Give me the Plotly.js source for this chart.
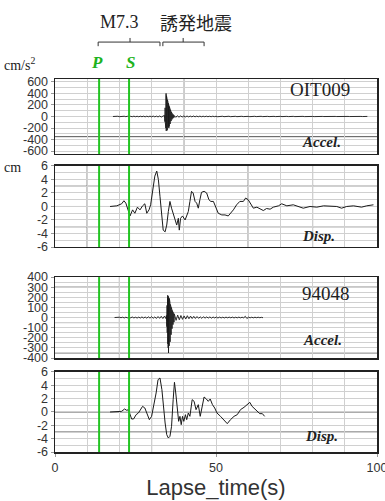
<!DOCTYPE html>
<html><head><meta charset="utf-8">
<script src="https://cdn.plot.ly/plotly-3.0.1.min.js"></script>
<style>html,body{margin:0;padding:0;background:#fff;}#chart{width:385px;height:501px;}</style>
</head><body><div id="chart"></div>
<script>
// ---------- data ----------
const P_TIME = 13.7;
const S_TIME = 23.0;

// OIT009 acceleration (cm/s^2), sampled segments
const acc1PreT0 = 18, acc1PreDt = 0.5;
const acc1Pre = [0, 3, -2, 4, -3, 2, -4, 4, -3, 4, -4, 3, -4, 5, -4, 4, -5, 5, -4, 5, -6, 5, -5, 6, -6, 7, -6, 6, -8, 9, -10, 12];
const acc1BurstT0 = 34.0, acc1BurstDt = 0.05;
const acc1Burst = [20, -40, 60, -90, 150, -110, 220, -160, 280, -200, 400, -250, 360, -230, 330, -220, 310, -240, 290, -200, 260, -230, 250, -180, 230, -190, 220, -200, 190, -170, 170, -150, 150, -160, 140, -130, 120, -100, 110, -110, 90, -80, 80, -70, 70, -60, 60, -50, 50, -45, 40, -35, 35, -30, 30, -25, 25, -20, 20, -18];
const acc1CodaT0 = 37, acc1CodaDt = 0.5;
const acc1Coda = [16, -14, 12, -12, 10, -9, 9, -8, 8, -7, 7, -6, 8, -6, 6, -5, 6, -5, 5, -4, 5, -4, 4, -4, 5, -3, 4, -4, 3, -3, 4, -3, 3, -3, 4, -3, 3, -2, 3, -3, 2, -3, 3, -2, 3, -2, 2, -3, 2, -2, 3, -2, 2, -2, 3, -2, 2, -2, 2, -2, 2, -2, 2, -2, 3, -2, 2, -2, 2, -2, 2, -2, 2, -1, 2, -2, 1, -2, 2, -1, 2, -2, 1, -1, 2, -1, 1, -2, 1, -1, 2, -1, 1, -1, 1, -1, 1, -1, 1, -1, 1, -1, 1, -1, 1, -1, 1, -1, 1, -1, 1, -1, 1, -1, 1, -1, 1, -1, 1, -1, 1];

// OIT009 displacement (cm)
const disp1Time = [17.1, 19.2, 20.7, 21.4, 22.0, 22.8, 23.3, 24.1, 24.8, 25.6, 26.4, 27.2, 27.9, 28.5, 29.2, 29.7, 30.3, 31.0, 31.6, 32.1, 32.6, 33.1, 33.6, 34.2, 34.7, 35.2, 35.7, 36.2, 36.7, 37.3, 37.8, 38.3, 38.6, 39.0, 39.6, 40.4, 40.9, 41.4, 41.9, 42.4, 42.9, 43.5, 44.0, 44.5, 45.0, 45.5, 46.3, 47.1, 47.8, 48.4, 49.2, 50.0, 50.7, 51.8, 52.8, 53.8, 54.6, 55.4, 56.4, 57.4, 58.5, 59.2, 60.0, 60.8, 61.6, 62.7, 63.7, 64.7, 65.7, 66.8, 67.8, 69.4, 70.4, 72.0, 74.0, 76.1, 77.1, 79.2, 81.3, 83.4, 85.4, 87.5, 89.0, 90.6, 92.7, 95.2, 96.8, 98.9];
const disp1Val = [0, 0.1, 0.4, 0.85, 0.5, -0.75, -1.4, -0.5, -1, -0.1, -0.5, 0.1, 0.4, -1, -0.5, 0.25, 2.5, 4.5, 5.25, 4, 1.5, -1.5, -3.5, -3.75, -2.75, -0.75, 0.75, -0.25, -1, -2, -2.75, -1.75, -3.5, -1.75, -1.4, -2, -1.5, -0.75, 0.75, 2.25, 2, 0.75, 0.5, -0.25, 1, 2.1, 2.25, 2, 1, 0.75, 0.75, -0.25, -1, -1.25, -1.25, -1.4, -1, -0.5, 0.25, 0.75, 0.75, 1.25, 1, 0.4, -0.25, -0.1, -0.4, -0.6, -0.3, -0.4, -0.1, 0.1, 0.4, 0.1, 0.25, -0.1, -0.25, 0, -0.1, 0.1, 0.1, 0, -0.25, 0, 0.1, -0.1, 0.1, 0.25];

// 94048 acceleration (cm/s^2)
const acc2PreT0 = 18.5, acc2PreDt = 0.5;
const acc2Pre = [0, 2, -3, 3, -2, 3, -4, 3, -3, 4, -3, 5, -4, 3, -5, 4, -5, 6, -5, 5, -6, 7, -6, 8, -7, 6, -9, 10, -8, 12, -10, 14, -12];
const acc2BurstT0 = 34.6, acc2BurstDt = 0.05;
const acc2Burst = [20, -40, 70, -90, 120, -150, 180, -200, 220, -260, 190, -300, 210, -350, 200, -310, 170, -280, 190, -250, 160, -230, 150, -240, 130, -200, 120, -180, 110, -170, 100, -150, 90, -130, 80, -110, 70, -100, 60, -80, 55, -70, 50, -60, 45, -50, 40, -45, 35, -40];
const acc2CodaT0 = 37.1, acc2CodaDt = 0.5;
const acc2Coda = [30, -28, 24, -22, 20, -18, 16, -15, 18, -12, 14, -10, 12, -9, 10, -8, 7, -8, 8, -6, 6, -5, 6, -6, 5, -4, 5, -5, 4, -4, 3, -4, 4, -3, 4, -3, 4, -4, 3, -3, 4, -3, 3, -3, 12, -10, 4, -3, 3, -3, 3, -2, 3, -2, 2, -2];

// 94048 displacement (cm)
const disp2Time = [17.1, 19.2, 20.7, 21.6, 22.3, 22.8, 23.3, 23.8, 24.4, 25.2, 25.9, 26.6, 27.2, 27.9, 28.7, 29.3, 30.0, 30.7, 31.4, 32.0, 32.6, 33.2, 33.6, 34.2, 34.7, 35.2, 35.7, 36.2, 36.7, 37.1, 37.5, 37.9, 38.4, 38.8, 39.2, 39.6, 40.0, 40.5, 40.9, 41.4, 41.9, 42.6, 43.2, 43.8, 44.5, 45.1, 45.7, 46.3, 47.0, 47.6, 48.2, 48.9, 49.6, 50.3, 51.4, 52.4, 53.5, 54.5, 55.6, 56.6, 57.6, 58.7, 59.7, 60.5, 61.2, 62.0, 62.8, 63.6, 64.4, 65.1];
const disp2Val = [0, 0, 0.1, 0.45, 0.25, 0.35, -0.4, -1.05, -1.05, -0.4, -0.15, 0.35, 0.85, 0.6, -0.4, -1.15, -0.65, 0.85, 2.85, 4.85, 5.1, 3.35, 0.85, -1.65, -3.4, -3.9, -3.65, -2.15, 1.85, 4.45, 2.85, 0.35, -1.4, -0.65, -1.9, -0.65, -1.4, -0.4, -1.15, -0.15, -0.65, 1.85, 1.6, 0.35, 1.1, -0.65, 0.85, 2.25, 1.95, 1.6, 1.95, 1.1, 0.6, -0.15, -0.65, -1.15, -1.75, -1.15, -0.65, -0.4, 0.35, 0.7, 1.1, 1.45, 0.85, 0.45, 0.1, -0.25, -0.25, -0.65];

// tick labels
const accel1TickVals = [600, 400, 200, 0, -200, -400, -600];
const accel1TickText = ['600', '400', '200', '0', '-200', '-400', '-600'];
const accel2TickVals = [400, 300, 200, 100, 0, -100, -200, -300, -400];
const accel2TickText = ['400', '300', '200', '100', '0', '-100', '-200', '-300', '-400'];
const dispTickVals = [6, 4, 2, 0, -2, -4, -6];
const dispTickText = ['6', '4', '2', '0', '-2', '-4', '-6'];
const xTickVals = [0, 50, 100];
const xTickText = ['0', '50', '100'];

// event brackets (mainshock, induced)
const bracketStart = [13.4, 33.5];
const bracketEnd = [32.6, 46.3];
const bracketMid = [23.3, 39.8];

// darker grid lines seen in each panel
const darkX = [[40], [10, 30, 60, 80], [20], [30]];
const darkY = [[-350], [3, 0, -3], [300, -50, -350], [0, -3]];

// ---------- build ----------
function sampleTimes(t0, dt, vals) { return vals.map((_, i) => +(t0 + i * dt).toFixed(3)); }
function joinSeg(segs) {
  let t = [], v = [];
  segs.forEach(s => { t = t.concat(sampleTimes(s[0], s[1], s[2])); v = v.concat(s[2]); });
  return {t, v};
}
const a1 = joinSeg([[acc1PreT0, acc1PreDt, acc1Pre], [acc1BurstT0, acc1BurstDt, acc1Burst], [acc1CodaT0, acc1CodaDt, acc1Coda]]);
const a2 = joinSeg([[acc2PreT0, acc2PreDt, acc2Pre], [acc2BurstT0, acc2BurstDt, acc2Burst], [acc2CodaT0, acc2CodaDt, acc2Coda]]);

const traceColor = '#1a1a1a';
const traces = [
  {x: a1.t, y: a1.v, xaxis: 'x', yaxis: 'y', type: 'scatter', mode: 'lines', line: {color: traceColor, width: 0.9}},
  {x: disp1Time, y: disp1Val, xaxis: 'x2', yaxis: 'y2', type: 'scatter', mode: 'lines', line: {color: traceColor, width: 1}},
  {x: a2.t, y: a2.v, xaxis: 'x3', yaxis: 'y3', type: 'scatter', mode: 'lines', line: {color: traceColor, width: 0.9}},
  {x: disp2Time, y: disp2Val, xaxis: 'x4', yaxis: 'y4', type: 'scatter', mode: 'lines', line: {color: traceColor, width: 1}}
];

const gridC = '#d0d0d0';
const tickFont = {family: 'Liberation Sans, Arial, sans-serif', size: 12.5, color: '#333'};
function xAx(anchor, showLabels) {
  return {
    domain: [0, 1], anchor: anchor, range: [0, 100], matches: anchor === 'y' ? undefined : 'x',
    tickmode: 'array', tickvals: xTickVals, ticktext: xTickText, showticklabels: showLabels,
    ticks: showLabels ? 'outside' : '', ticklen: 3, tickcolor: '#999', ticklabeloverflow: 'allow',
    showgrid: true, gridcolor: gridC, gridwidth: 1,
    minor: {dtick: 10, tick0: 0, showgrid: true, gridcolor: gridC, gridwidth: 1},
    showline: true, mirror: true, linecolor: '#222', linewidth: 1.5, zeroline: false,
    tickfont: tickFont, automargin: false
  };
}
function yAx(domain, range, tv, tt, minorDt) {
  return {
    domain: domain, range: range, tickmode: 'array', tickvals: tv, ticktext: tt,
    ticks: 'outside', ticklen: 3, tickcolor: '#999',
    showgrid: true, gridcolor: gridC, gridwidth: 1,
    minor: {dtick: minorDt, tick0: 0, showgrid: true, gridcolor: gridC, gridwidth: 1},
    showline: true, mirror: true, linecolor: '#222', linewidth: 1.5, zeroline: false,
    tickfont: tickFont, fixedrange: true, automargin: false
  };
}

const xa4 = xAx('y4', true);
xa4.title = {text: 'Lapse_time(s)', font: {family: 'Liberation Sans, Arial, sans-serif', size: 22, color: '#333'}, standoff: 6};

const shapes = [];
const panels = ['', '2', '3', '4'];
panels.forEach((p, i) => {
  darkX[i].forEach(xv => shapes.push({type: 'line', xref: 'x' + p, yref: 'y' + p + ' domain', x0: xv, x1: xv, y0: 0, y1: 1, line: {color: '#555', width: 1}, layer: 'below'}));
  darkY[i].forEach(yv => shapes.push({type: 'line', xref: 'x' + p + ' domain', yref: 'y' + p, x0: 0, x1: 1, y0: yv, y1: yv, line: {color: '#555', width: 1}, layer: 'below'}));
  [P_TIME, S_TIME].forEach(tv => shapes.push({type: 'line', xref: 'x' + p, yref: 'y' + p + ' domain', x0: tv, x1: tv, y0: 0, y1: 1, line: {color: '#22c422', width: 2}}));
});
// brackets
const bY = 1.099, bEnd = 1.088, bTop = 1.110;
bracketStart.forEach((s, i) => {
  const e = bracketEnd[i], m = bracketMid[i];
  shapes.push({type: 'line', xref: 'x', yref: 'paper', x0: s, x1: e, y0: bY, y1: bY, line: {color: '#333', width: 1}});
  shapes.push({type: 'line', xref: 'x', yref: 'paper', x0: s, x1: s, y0: bY, y1: bEnd, line: {color: '#333', width: 1}});
  shapes.push({type: 'line', xref: 'x', yref: 'paper', x0: e, x1: e, y0: bY, y1: bEnd, line: {color: '#333', width: 1}});
  shapes.push({type: 'line', xref: 'x', yref: 'paper', x0: m, x1: m, y0: bY, y1: bTop, line: {color: '#333', width: 1}});
});

const serif = '"Liberation Serif", "Times New Roman", serif';
function ann(text, x, y, font, xanchor, xref) {
  return {text: text, xref: xref || 'paper', yref: 'paper', x: x, y: y, xanchor: xanchor || 'center', yanchor: 'middle', showarrow: false, font: font};
}
const annotations = [
  ann('M7.3', 0.2, 1.153, {family: serif, size: 18, color: '#222'}, 'center'),
  ann('誘発地震', 0.439, 1.153, {family: '"Noto Sans CJK JP", sans-serif', size: 18, color: '#222'}, 'center'),
  ann('<b><i>P</i></b>', P_TIME - 0.8, 1.043, {family: serif, size: 17, color: '#1db31d'}, 'center', 'x'),
  ann('<b><i>S</i></b>', S_TIME + 0.3, 1.043, {family: serif, size: 17, color: '#1db31d'}, 'center', 'x'),
  ann('cm/s<sup>2</sup>', -0.165, 1.040, {family: serif, size: 14, color: '#222'}, 'left'),
  ann('cm', -0.165, 0.763, {family: serif, size: 14, color: '#222'}, 'left'),
  ann('OIT009', 0.823, 0.973, {family: serif, size: 19, color: '#222'}),
  ann('<b><i>Accel.</i></b>', 0.829, 0.831, {family: serif, size: 15, color: '#222'}),
  ann('<b><i>Disp.</i></b>', 0.817, 0.579, {family: serif, size: 15, color: '#222'}),
  ann('94048', 0.842, 0.424, {family: serif, size: 19, color: '#222'}),
  ann('<b><i>Accel.</i></b>', 0.832, 0.300, {family: serif, size: 15, color: '#222'}),
  ann('<b><i>Disp.</i></b>', 0.829, 0.043, {family: serif, size: 15, color: '#222'})
];

const layout = {
  width: 385, height: 501,
  margin: {l: 55, r: 8, t: 79, b: 49},
  paper_bgcolor: '#fff', plot_bgcolor: '#fff',
  showlegend: false,
  xaxis: xAx('y', false),
  xaxis2: xAx('y2', false),
  xaxis3: xAx('y3', false),
  xaxis4: xa4,
  yaxis: yAx([0.799, 1], [-650, 650], accel1TickVals, accel1TickText, 100),
  yaxis2: yAx([0.5496, 0.7668], [-6, 6], dispTickVals, dispTickText, 1),
  yaxis3: yAx([0.252, 0.469], [-400, 400], accel2TickVals, accel2TickText, 50),
  yaxis4: yAx([0, 0.2145], [-6, 6], dispTickVals, dispTickText, 1),
  shapes: shapes,
  annotations: annotations
};

Plotly.newPlot('chart', traces, layout, {staticPlot: true, displayModeBar: false});
</script></body></html>
